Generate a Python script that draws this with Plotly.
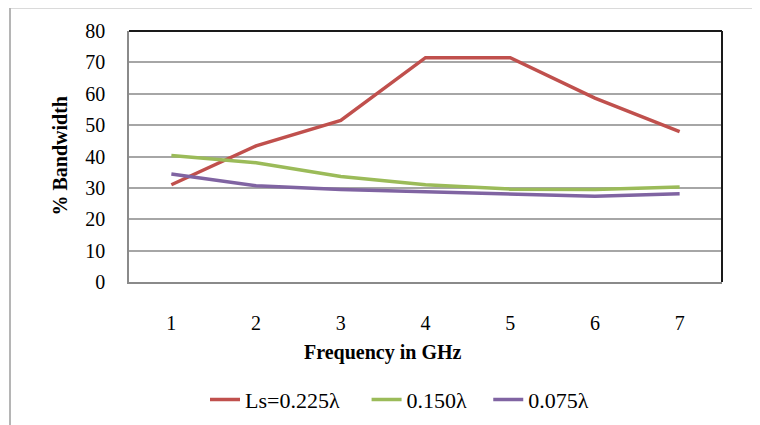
import plotly.graph_objects as go

freq = ["1", "2", "3", "4", "5", "6", "7"]
ls_0225 = [31.0, 43.4, 51.5, 71.5, 71.5, 58.6, 47.9]
ls_0150 = [40.3, 38.0, 33.6, 31.0, 29.6, 29.5, 30.3]
ls_0075 = [34.4, 30.7, 29.5, 28.8, 28.1, 27.3, 28.1]
names = ["Ls=0.225λ", "0.150λ", "0.075λ"]
colors = ["#C0504D", "#9BBB59", "#8064A2"]
y_ticks = [0, 10, 20, 30, 40, 50, 60, 70, 80]

W, H = 760, 425
OFF = 8  # page body offset
L, R, T, B = 129 - OFF, 722 - OFF, 29 - OFF, 285 - OFF

NB = "\u00a0"
pads = [NB * 4, NB * 3, ""]

fig = go.Figure()
for vals, nm, col, pad in zip([ls_0225, ls_0150, ls_0075], names, colors, pads):
    fig.add_trace(go.Scatter(x=freq, y=vals, name=nm + pad, mode="lines",
                             line=dict(color=col, width=3.5)))

font = "Liberation Serif, Times New Roman, serif"

def px_x(p):
    return (p - OFF - L) / (R - L)

def px_y(p):
    return (B - (p - OFF)) / (B - T)

fig.update_layout(
    width=W, height=H,
    margin=dict(l=L, r=W - R, t=T, b=H - B),
    paper_bgcolor="white", plot_bgcolor="white",
    font=dict(family=font, size=20, color="black"),
    showlegend=True,
    legend=dict(orientation="h", x=px_x(205), y=px_y(405), xanchor="left", yanchor="middle",
                font=dict(family=font, size=22, color="black"),
                itemwidth=30, tracegroupgap=0, bgcolor="rgba(0,0,0,0)"),
    xaxis=dict(type="category", range=[-0.5, 6.5], showgrid=False,
               showline=True, linecolor="#8a8a8a", linewidth=1.5,
               ticks="", ticklabelstandoff=22,
               tickfont=dict(family=font, size=20, color="black"), fixedrange=True),
    yaxis=dict(range=[0, 80], tickvals=y_ticks, showgrid=True, gridcolor="#a6a6a6", gridwidth=1.5,
               showline=True, linecolor="#8a8a8a", linewidth=1.5, zeroline=False,
               ticks="", ticklabelstandoff=18,
               tickfont=dict(family=font, size=20, color="black"), fixedrange=True),
    annotations=[
        dict(text="<b>Frequency in GHz</b>", xref="paper", yref="paper",
             x=px_x(383), y=px_y(357), showarrow=False, xanchor="center", yanchor="middle",
             font=dict(family=font, size=20, color="black")),
        dict(text="<b>% Bandwidth</b>", xref="paper", yref="paper", textangle=-90,
             x=px_x(60), y=px_y(156), showarrow=False, xanchor="center", yanchor="middle",
             font=dict(family=font, size=20, color="black")),
    ],
    shapes=[
        dict(type="line", xref="paper", yref="paper", x0=px_x(10), x1=px_x(780), y0=px_y(5), y1=px_y(5),
             line=dict(color="#b5b5b5", width=2)),
        dict(type="line", xref="paper", yref="paper", x0=px_x(10), x1=px_x(10), y0=px_y(5), y1=px_y(440),
             line=dict(color="#b5b5b5", width=2)),
        dict(type="line", xref="paper", yref="paper", x0=0, x1=1, y0=1, y1=1,
             line=dict(color="#1a1a1a", width=2)),
        dict(type="line", xref="paper", yref="paper", x0=1, x1=1, y0=0, y1=1,
             line=dict(color="#1a1a1a", width=2)),
    ],
)

fig.write_html("out.html")
